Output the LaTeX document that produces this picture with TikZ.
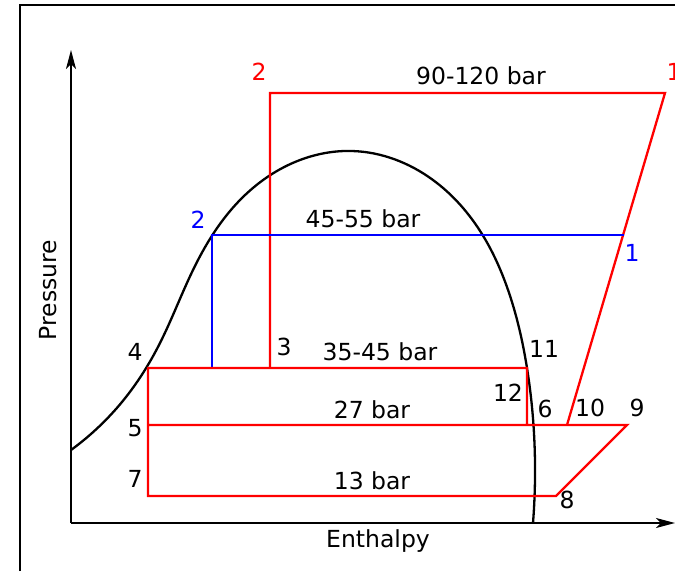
\documentclass[tikz,border=0pt]{standalone}
\usepackage{fontspec}
\setmainfont{DejaVu Sans}
\usetikzlibrary{positioning, arrows.meta, hobby}

\begin{document}
\begin{tikzpicture}[
  x=1pt, y=-1pt,
  every node/.style={inner sep=0pt, font=\fontsize{23.5}{28}\selectfont},
  frame/.style={draw=black, line width=1.6pt},
  axis/.style={draw=black, line width=1.6pt, -{Stealth[length=19pt, width=10pt, inset=5pt]}},
  dome/.style={draw=black, line width=2.3pt, use Hobby shortcut},
  highcycle/.style={draw=red, line width=2.3pt},
  lowcycle/.style={draw=blue, line width=2.3pt},
  redlabel/.style={text=red},
  bluelabel/.style={text=blue}
]
\useasboundingbox (0,0) rectangle (675,571);

% Frame
\draw[frame] (20,571) -- (20,5) -- (675,5);

% Axes
\coordinate (origin) at (71,523);
\coordinate (ytip) at (71,50);
\coordinate (xtip) at (675,523);
\draw[axis] (origin) -- (ytip);
\draw[axis] (origin) -- (xtip);
\node (xlabel) at (378,541) {Enthalpy};
\node[rotate=90] (ylabel) at (48,290) {Pressure};

% Saturation dome
\draw[dome] (71,450) .. (126,397) .. (160,343) .. (193,270) .. (240,200)
  .. (300,160) .. (352,151) .. (433,180) .. (482,234) .. (507,287)
  .. (527,368) .. (535,463) .. (533,523);

% Points
\coordinate (r1) at (665,93);
\coordinate (r2) at (270,93);
\coordinate (r3) at (270,368);
\coordinate (b1) at (624,235);
\coordinate (b2) at (212,235);
\coordinate (b3) at (212,368);
\coordinate (p4) at (148,368);
\coordinate (p11) at (527,368);
\coordinate (p12) at (527,425);
\coordinate (p5) at (148,425);
\coordinate (p10) at (567,425);
\coordinate (p9) at (627,425);
\coordinate (p7) at (148,496);
\coordinate (p8) at (556,496);

% Cycle lines
\draw[highcycle] (r3) -- (r2) -- (r1) -- (p10);
\draw[lowcycle] (b1) -- (b2) -- (b3);
\draw[highcycle] (p12) -- (p11) -- (p4) -- (p7) -- (p8) -- (p9) -- (p5);

% Labels
\node[redlabel] (lr2) at (259,72) {2};
\node[redlabel] (lr1) at (674,72) {1};
\node (l90) at (481,76) {90-120 bar};
\node[bluelabel] (lb2) at (198,220) {2};
\node (l45) at (363,219) {45-55 bar};
\node[bluelabel] (lb1) at (632,253) {1};
\node (l4) at (135,352) {4};
\node (l3) at (284,347) {3};
\node (l35) at (380,352) {35-45 bar};
\node (l11) at (544,349) {11};
\node (l12) at (508,393) {12};
\node (l6) at (545,409) {6};
\node (l10) at (590,408) {10};
\node (l9) at (637,408) {9};
\node (l5) at (135,428) {5};
\node (l27) at (372,410) {27 bar};
\node (l7) at (135,479) {7};
\node (l13) at (372,481) {13 bar};
\node (l8) at (567,500) {8};

\end{tikzpicture}
\end{document}
